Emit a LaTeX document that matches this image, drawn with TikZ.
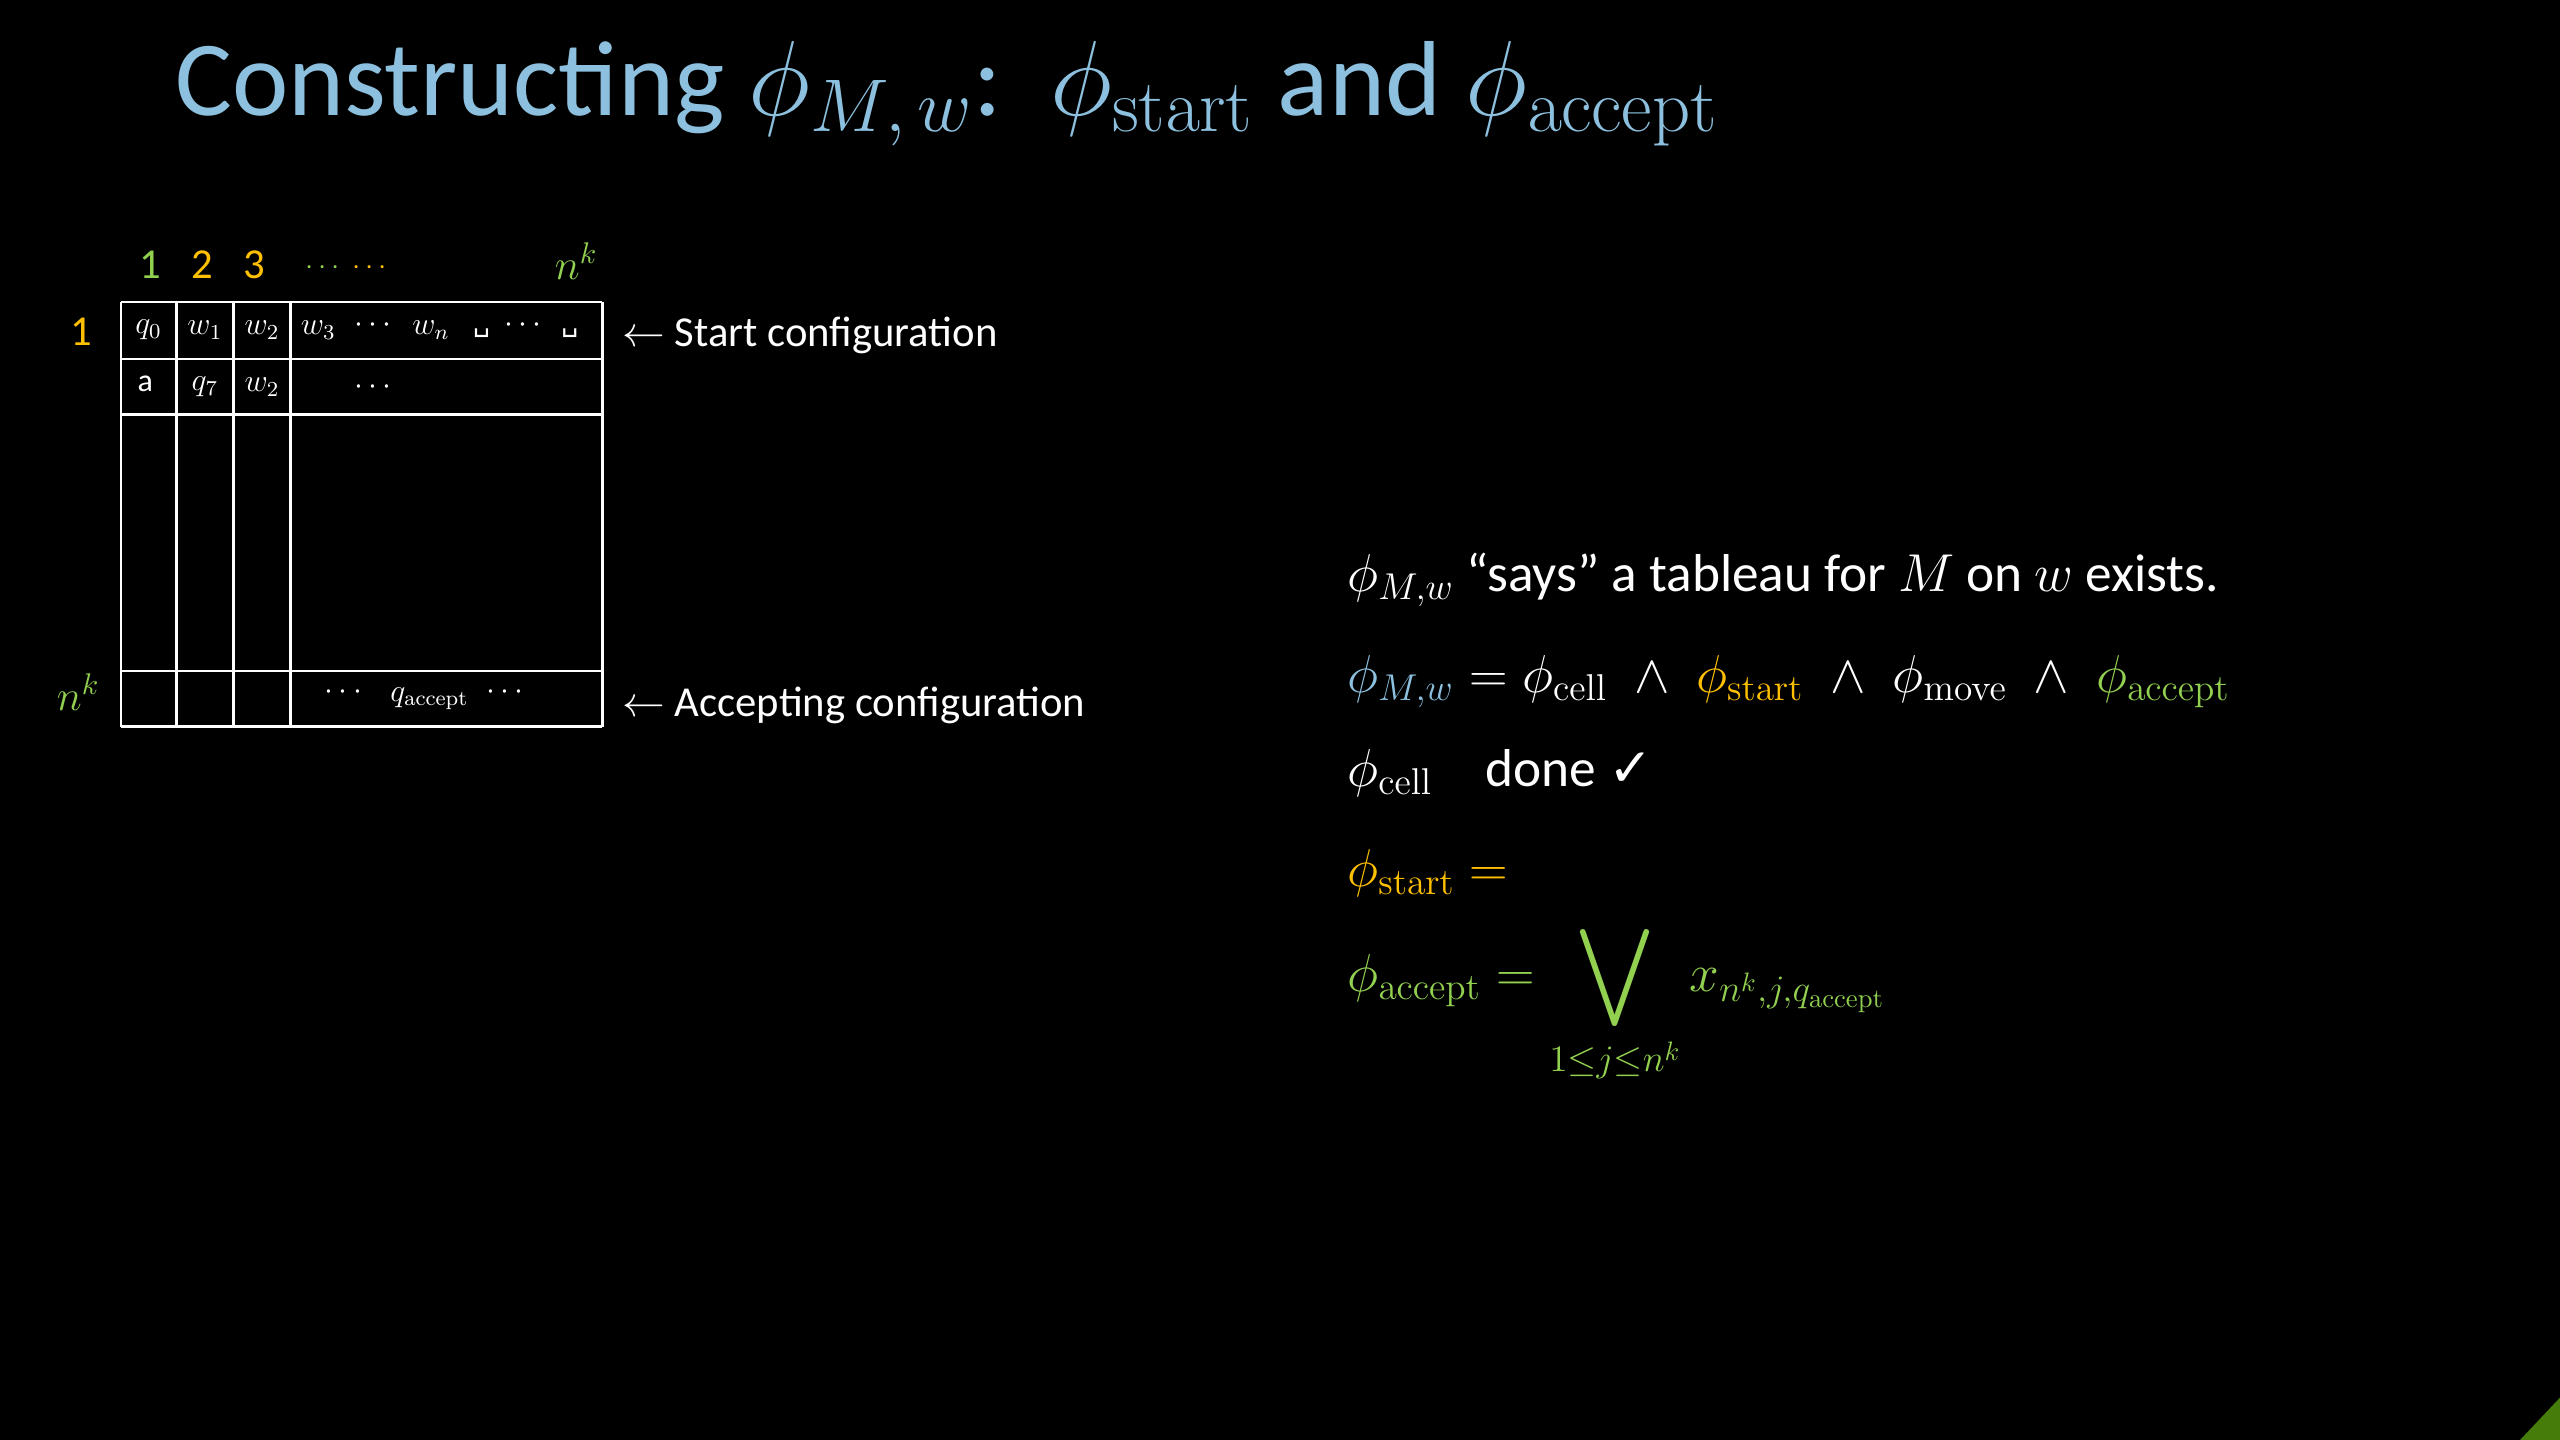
\RequirePackage{fix-cm}
\documentclass[tikz,border=0pt]{standalone}
\usepackage{amsmath,amssymb}
\usepackage[no-math]{fontspec}
\setmainfont{Carlito}
\newfontfamily\symfont{DejaVu Sans}
\usetikzlibrary{positioning}
\definecolor{titleblue}{RGB}{140,192,222}
\definecolor{startorange}{RGB}{255,192,0}
\definecolor{acceptgreen}{RGB}{146,208,80}
\definecolor{cornergreen}{RGB}{70,125,10}
\newcommand{\bigor}{\mathop{\vcenter{\hbox{\scalebox{1.3}{$\displaystyle\bigvee$}}}}\limits}

\begin{document}
\begin{tikzpicture}[
    x=0.6122pt, y=-0.6122pt,
    grid/.style={white, line width=0.9pt},
    cell/.style={white, font=\fontsize{12}{14}\selectfont, inner sep=0pt},
    hdr/.style={font=\fontsize{16}{19}\selectfont, inner sep=0pt},
    note/.style={white, font=\fontsize{16}{19}\selectfont, anchor=base west, inner sep=0pt},
    fline/.style={white, font=\fontsize{20}{24}\selectfont, anchor=base west, inner sep=0pt},
]
% Slide background
\fill[black] (0,0) rectangle (1568,882);
\fill[cornergreen] (1543.5,882) -- (1568,882) -- (1568,856) -- cycle;

% Title
\node[anchor=base west, inner sep=0pt, titleblue, font=\fontsize{40}{48}\selectfont] (title) at (107,71)
    {Constructing $\phi_{M,\,w}$:\ \ $\phi_{\mathrm{start}}$ and $\phi_{\mathrm{accept}}$};

% --- Tableau ---
\foreach \y in {185,220,254,411,445} {
    \draw[grid] (74,\y) -- (369,\y);
}
\foreach \x in {74,108,143,178,369} {
    \draw[grid] (\x,185) -- (\x,445);
}

% Column and row headers
\node[hdr, acceptgreen] (h1) at (92,162) {1};
\node[hdr, startorange] (h2) at (124,162) {2};
\node[hdr, startorange] (h3) at (156,162) {3};
\node[hdr, acceptgreen, font=\fontsize{11}{13}\selectfont] (hd1) at (199,164) {$\cdots$};
\node[hdr, startorange, font=\fontsize{11}{13}\selectfont] (hd2) at (228,164) {$\cdots$};
\node[hdr, acceptgreen] (hn) at (353,160) {$n^k$};
\node[hdr, startorange] (r1) at (50,203) {1};
\node[hdr, acceptgreen] (rn) at (48,424) {$n^k$};

% Row 1: start configuration
\node[cell] (q0) at (91,202) {$q_0$};
\node[cell] (w1) at (125.5,202) {$w_1$};
\node[cell] (w2) at (160.5,202) {$w_2$};
\node[cell] (w3) at (195,202) {$w_3$};
\node[cell] (d1) at (230,199) {$\cdots$};
\node[cell] (wn) at (264,202) {$w_n$};
\node[cell, font=\symfont\fontsize{10}{12}\selectfont] (b1) at (295,204) {␣};
\node[cell] (d2) at (322,199) {$\cdots$};
\node[cell, font=\symfont\fontsize{10}{12}\selectfont] (b2) at (349,204) {␣};
% Row 2
\node[cell] (a) at (89,235) {a};
\node[cell] (q7) at (125.5,237) {$q_7$};
\node[cell] (w2b) at (160.5,237) {$w_2$};
\node[cell] (d3) at (230,237) {$\cdots$};
% Last row: accepting configuration
\node[cell] (d4) at (212,424) {$\cdots$};
\node[cell] (qacc) at (263,428) {$q_{\mathrm{accept}}$};
\node[cell] (d5) at (311,424) {$\cdots$};

\node[note] (startnote) at (381,212) {$\leftarrow$ Start configuration};
\node[note] (accnote) at (381,439) {$\leftarrow$ Accepting configuration};

% --- Formulas ---
\node[fline] (says) at (825,362) {$\phi_{M,w}$ “says” a tableau for $M$ on $w$ exists.};
\node[fline] (conj) at (825,424)
    {${\color{titleblue}\phi_{M,w}} = \phi_{\mathrm{cell}} \;\wedge\; {\color{startorange}\phi_{\mathrm{start}}} \;\wedge\; \phi_{\mathrm{move}} \;\wedge\; {\color{acceptgreen}\phi_{\mathrm{accept}}}$};
\node[fline] (cell) at (825,482) {$\phi_{\mathrm{cell}}$\quad done {\symfont ✓}};
\node[fline, startorange] (start) at (825,543) {$\phi_{\mathrm{start}} =$};
\node[fline, acceptgreen] (accept) at (825,607)
    {$\phi_{\mathrm{accept}} = \bigor_{1\le j\le n^k} x_{n^k,j,q_{\mathrm{accept}}}$};
\end{tikzpicture}
\end{document}
